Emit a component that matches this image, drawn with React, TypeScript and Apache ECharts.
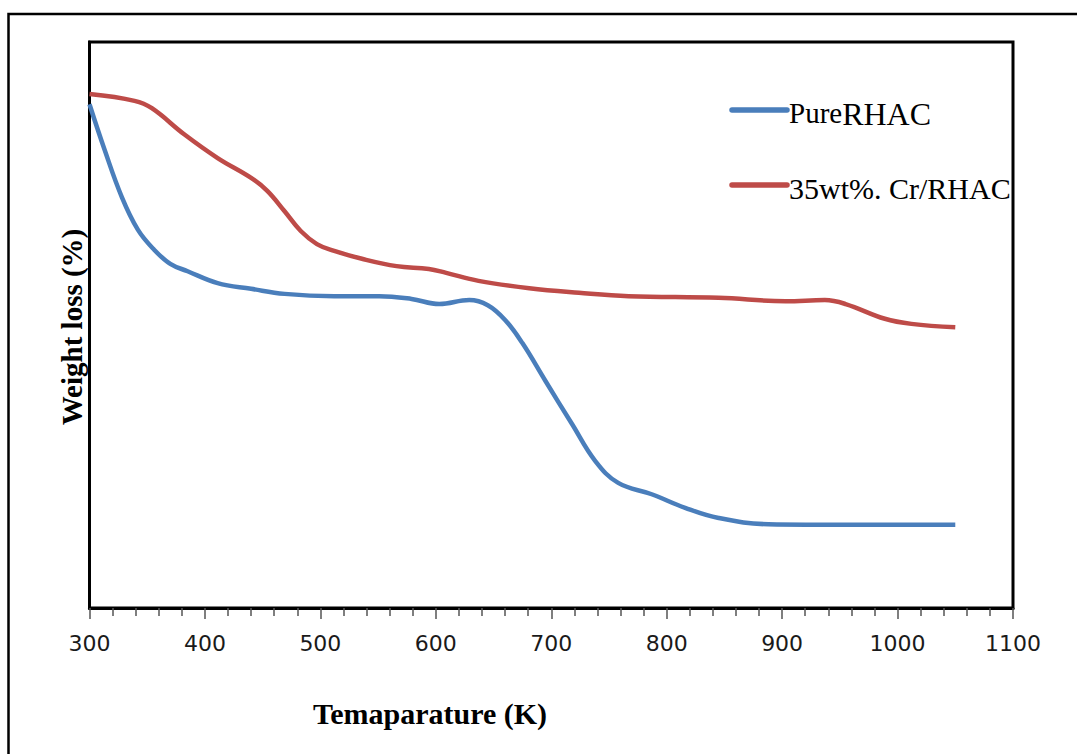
import React, { useEffect, useRef } from "react";
import * as echarts from "echarts";

const xTicks = [300, 400, 500, 600, 700, 800, 900, 1000, 1100];

const pureTemps = [300, 313, 328, 342, 356, 370, 385, 411, 440, 469, 512, 551, 579, 603, 629, 645, 660, 675, 695, 718, 738, 758, 787, 816, 845, 888, 960, 1050];
const pureValues = [89.0, 81.0, 72.6, 66.8, 63.3, 60.8, 59.5, 57.4, 56.4, 55.5, 55.1, 55.1, 54.6, 53.7, 54.4, 53.5, 50.9, 46.8, 40.1, 32.5, 26.0, 22.1, 20.1, 17.7, 15.9, 14.8, 14.7, 14.7];

const crTemps = [300, 339, 354, 382, 411, 440, 454, 469, 483, 497, 512, 536, 566, 594, 609, 637, 681, 724, 767, 845, 903, 937, 955, 989, 1012, 1050];
const crValues = [90.8, 89.6, 88.3, 83.7, 79.5, 76.0, 73.7, 70.1, 66.6, 64.3, 63.1, 61.7, 60.4, 59.9, 59.2, 57.8, 56.5, 55.7, 55.1, 54.8, 54.2, 54.4, 53.7, 51.1, 50.2, 49.6];

const seriesNames = ["PureRHAC", "35wt%. Cr/RHAC"];
const xTitle = "Temaparature (K)";
const yTitle = "Weight loss (%)";

const BLUE = "#4A7EBB";
const RED = "#BE4B48";

export default function App() {
  const ref = useRef<HTMLDivElement>(null);
  useEffect(() => {
    if (!ref.current) return;
    const chart = echarts.init(ref.current, null, { renderer: "svg" });
    const pure = pureTemps.map((t, i) => [t, pureValues[i]]);
    const cr = crTemps.map((t, i) => [t, crValues[i]]);
    chart.setOption({
      animation: false,
      backgroundColor: "#fff",
      grid: {
        left: 89.5,
        top: 42,
        right: 64,
        bottom: 146,
        show: true,
        borderColor: "#000",
        borderWidth: 3,
        containLabel: false,
      },
      xAxis: {
        type: "value",
        min: xTicks[0],
        max: xTicks[xTicks.length - 1],
        interval: 100,
        splitLine: { show: false },
        axisLine: { show: true, lineStyle: { color: "#000", width: 3 } },
        axisTick: { show: true, inside: false, length: 11, lineStyle: { color: "#555", width: 1.5 } },
        minorTick: { show: true, splitNumber: 5, length: 8, lineStyle: { color: "#555", width: 1.5 } },
        axisLabel: {
          fontFamily: "DejaVu Sans",
          fontSize: 22,
          color: "#1a1a1a",
          margin: 24,
          formatter: (v: number) => String(v),
        },
      },
      yAxis: {
        type: "value",
        min: 0,
        max: 100,
        splitLine: { show: false },
        axisLine: { show: true, lineStyle: { color: "#000", width: 3 } },
        axisTick: { show: false },
        axisLabel: { show: false },
      },
      series: [
        {
          name: seriesNames[0],
          type: "line",
          data: pure,
          smooth: 0.4,
          showSymbol: false,
          symbol: "none",
          lineStyle: { color: BLUE, width: 4.5 },
          itemStyle: { color: BLUE },
        },
        {
          name: seriesNames[1],
          type: "line",
          data: cr,
          smooth: 0.4,
          showSymbol: false,
          symbol: "none",
          lineStyle: { color: RED, width: 4.5 },
          itemStyle: { color: RED },
        },
      ],
      graphic: [
        {
          type: "rect",
          shape: { x: 8.5, y: 14, width: 1200, height: 900 },
          style: { fill: "none", stroke: "#000", lineWidth: 2.5 },
          silent: true,
          z: 100,
        },
        {
          type: "line",
          shape: { x1: 732, y1: 110, x2: 787, y2: 110 },
          style: { stroke: BLUE, lineWidth: 5.5, lineCap: "round" },
        },
        {
          type: "text",
          x: 789,
          y: 114,
          style: {
            text: "{a|Pure}{b|RHAC}",
            textVerticalAlign: "middle",
            verticalAlign: "middle",
            fill: "#000",
            rich: {
              a: { fontFamily: "Liberation Serif", fontSize: 29, verticalAlign: "top", fill: "#000" },
              b: { fontFamily: "Liberation Serif", fontSize: 32, fill: "#000" },
            },
          },
        },
        {
          type: "line",
          shape: { x1: 732, y1: 185, x2: 787, y2: 185 },
          style: { stroke: RED, lineWidth: 5.5, lineCap: "round" },
        },
        {
          type: "text",
          x: 789,
          y: 188,
          style: {
            text: seriesNames[1],
            fontFamily: "Liberation Serif",
            fontSize: 30,
            fill: "#000",
            verticalAlign: "middle",
          },
        },
        {
          type: "text",
          x: 430,
          y: 713,
          style: {
            text: xTitle,
            fontFamily: "Liberation Serif",
            fontWeight: "bold",
            fontSize: 30,
            fill: "#000",
            align: "center",
            verticalAlign: "middle",
          },
        },
        {
          type: "text",
          x: 72,
          y: 327,
          rotation: Math.PI / 2,
          style: {
            text: yTitle,
            fontFamily: "Liberation Serif",
            fontWeight: "bold",
            fontSize: 29,
            fill: "#000",
            align: "center",
            verticalAlign: "middle",
          },
        },
      ],
    });
    return () => chart.dispose();
  }, []);
  return (
    <div
      ref={ref}
      style={{ position: "fixed", left: 0, top: 0, width: 1077, height: 754, background: "#fff" }}
    />
  );
}
